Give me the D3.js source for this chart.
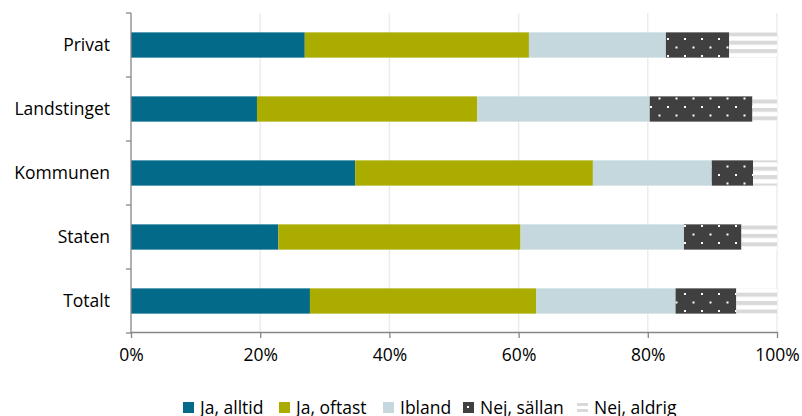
<!DOCTYPE html>
<html><head><meta charset="utf-8">
<script src="https://cdn.jsdelivr.net/npm/d3@7"></script>
<style>
html,body{margin:0;padding:0;background:#fff;}
svg{display:block;font-family:"Open Sans","Lato",sans-serif;}
</style></head>
<body>
<svg id="chart" width="802" height="416"></svg>
<script>
// Categories top to bottom
const categories = ["Privat", "Landstinget", "Kommunen", "Staten", "Totalt"];
const seriesNames = ["Ja, alltid", "Ja, oftast", "Ibland", "Nej, sällan", "Nej, aldrig"];
// Share of answers per category (%)
const jaAlltid  = [26.9, 19.5, 34.7, 22.8, 27.7];
const jaOftast  = [34.7, 34.1, 36.8, 37.5, 35.0];
const ibland    = [21.2, 26.7, 18.4, 25.3, 21.6];
const nejSallan = [9.8, 15.9, 6.4, 8.9, 9.4];
const nejAldrig = [7.4, 3.8, 3.7, 5.5, 6.3];
const xTicks = [0, 20, 40, 60, 80, 100];

const svg = d3.select("#chart");
const margin = {left: 131, right: 25, top: 13, bottom: 84};
const W = 802, H = 416;
const FONT = 17.5;

const defs = svg.append("defs");
// dark fill with white dots
const dots = defs.append("pattern").attr("id", "dots")
  .attr("patternUnits", "userSpaceOnUse").attr("width", 17).attr("height", 17);
dots.append("rect").attr("width", 17).attr("height", 17).attr("fill", "#404040");
dots.append("rect").attr("x", 4).attr("y", 4).attr("width", 2).attr("height", 2).attr("fill", "#fff");
dots.append("rect").attr("x", 12.5).attr("y", 12.5).attr("width", 2).attr("height", 2).attr("fill", "#fff");
// light horizontal stripes
const stripes = defs.append("pattern").attr("id", "stripes")
  .attr("patternUnits", "userSpaceOnUse").attr("width", 8).attr("height", 8.4)
  .attr("y", 32.3);
stripes.append("rect").attr("width", 8).attr("height", 8.4).attr("fill", "#fff");
stripes.append("rect").attr("width", 8).attr("height", 4).attr("fill", "#d9d9d9");
// smaller stripes for the legend swatch
const ls = defs.append("pattern").attr("id", "legStripes")
  .attr("patternUnits", "userSpaceOnUse").attr("width", 8).attr("height", 6)
  .attr("y", 403);
ls.append("rect").attr("width", 8).attr("height", 6).attr("fill", "#fff");
ls.append("rect").attr("width", 8).attr("height", 3).attr("fill", "#d9d9d9");

const fills = ["#046a8a", "#aaad00", "#c5d8dd", "url(#dots)", "url(#stripes)"];
const color = d3.scaleOrdinal().domain(seriesNames).range(fills);

const x = d3.scaleLinear().domain([0, 100]).range([margin.left, W - margin.right]);
const y = d3.scaleBand().domain(categories).range([margin.top, margin.top + 320]).padding(0);
const barH = y.bandwidth() * 0.395;

// gridlines
svg.append("g").selectAll("line").data(xTicks.slice(1)).join("line")
  .attr("x1", d => x(d)).attr("x2", d => x(d))
  .attr("y1", margin.top).attr("y2", margin.top + 320)
  .attr("stroke", "#ececec").attr("stroke-width", 1.5);

// stacked bars
const rows = categories.map((c, i) => ({
  cat: c,
  "Ja, alltid": jaAlltid[i], "Ja, oftast": jaOftast[i], "Ibland": ibland[i],
  "Nej, sällan": nejSallan[i], "Nej, aldrig": nejAldrig[i]
}));
const stacked = d3.stack().keys(seriesNames)(rows);

svg.append("g").selectAll("g").data(stacked).join("g")
  .attr("fill", d => color(d.key))
  .selectAll("rect").data(d => d).join("rect")
  .attr("x", d => x(d[0]))
  .attr("width", d => x(d[1]) - x(d[0]))
  .attr("y", d => y(d.data.cat) + (y.bandwidth() - barH) / 2)
  .attr("height", barH);

// axes
const axisColor = "#868686";
const xAxis = svg.append("g").attr("transform", `translate(0,${margin.top + 320 - 1})`)
  .call(d3.axisBottom(x).tickValues(xTicks).tickFormat(d => d + "%").tickSize(6).tickSizeOuter(0));
xAxis.select(".domain").attr("stroke", axisColor).attr("stroke-width", 1.3);
xAxis.selectAll(".tick line").attr("stroke", axisColor).attr("stroke-width", 1.3);
xAxis.selectAll(".tick text").attr("fill", "#000").attr("font-size", FONT)
  .attr("font-family", "'Open Sans', sans-serif").attr("y", 12).attr("dy", "0.95em");

const yAxisG = svg.append("g").attr("transform", `translate(${margin.left},0)`);
yAxisG.append("line").attr("x1", 0).attr("x2", 0)
  .attr("y1", margin.top).attr("y2", margin.top + 320)
  .attr("stroke", axisColor).attr("stroke-width", 1.3);
const bounds = categories.map(c => y(c)).concat([margin.top + 320]);
yAxisG.selectAll("line.tk").data(bounds).join("line").attr("class", "tk")
  .attr("x1", -5).attr("x2", 0).attr("y1", d => d).attr("y2", d => d)
  .attr("stroke", axisColor).attr("stroke-width", 1.3);
yAxisG.selectAll("text").data(categories).join("text")
  .attr("x", -21).attr("y", d => y(d) + y.bandwidth() / 2)
  .attr("dy", "0.35em").attr("text-anchor", "end")
  .attr("font-size", FONT).attr("fill", "#000").text(d => d);

// legend
const legend = svg.append("g");
const legX = [183, 279, 383, 463, 577];
const items = legend.selectAll("g").data(seriesNames).join("g")
  .attr("transform", (d, i) => `translate(${legX[i]},402)`);
items.append("rect").attr("width", 11).attr("height", 11)
  .attr("fill", (d, i) => i === 4 ? "url(#legStripes)" : color(d));
items.append("text").attr("x", 17).attr("y", 5.5).attr("dy", "0.35em")
  .attr("font-size", FONT).attr("fill", "#000").text(d => d);
</script>
</body></html>
